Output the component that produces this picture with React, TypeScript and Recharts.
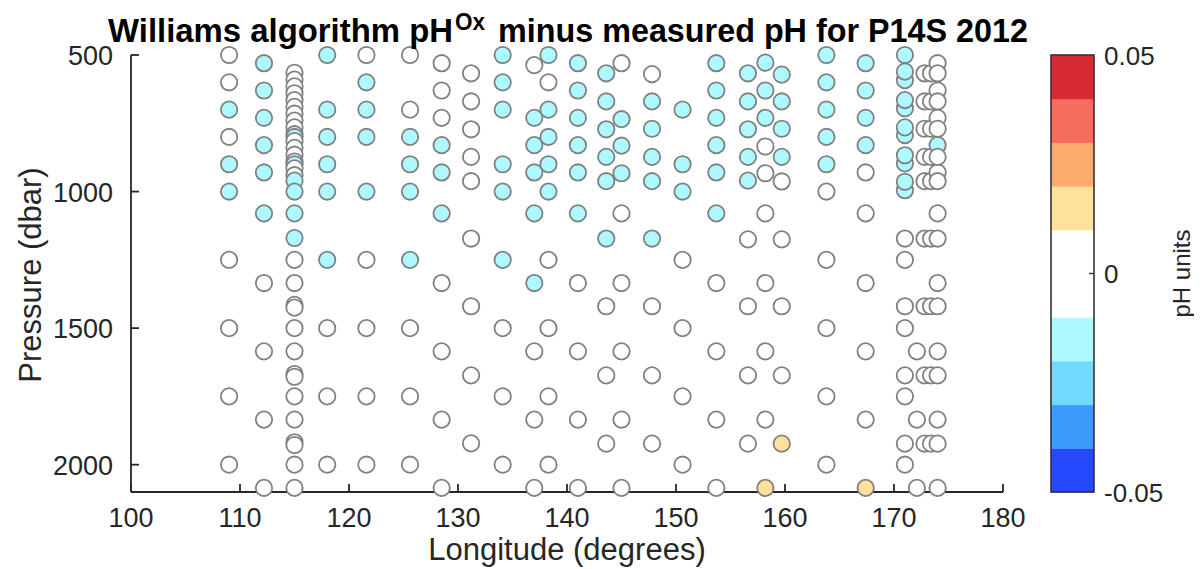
import React from 'react';
import { ScatterChart, Scatter, XAxis, YAxis } from 'recharts';

// ---- data ----
// cyan band ~ -0.015, white ~ 0, yellow ~ +0.015 (pH units)
const stationLon = [
  109.0, 112.2, 115.0, 118.0, 121.6, 125.6, 128.5, 131.2, 134.1, 137.0,
  138.3, 141.0, 143.6, 145.0, 147.8, 150.6, 153.7, 156.6, 158.2, 159.7,
  163.8, 167.4, 171.0, 171.0, 172.1, 172.8, 173.4, 174.0, 174.0,
];

const stationPressure = [
  [500, 600, 700, 800, 900, 1000, 1250, 1500, 1750, 2000],
  [530, 630, 730, 830, 930, 1080, 1335, 1585, 1835, 2085],
  [565, 590, 615, 640, 665, 690, 715, 740, 765, 790, 800, 815, 840, 865, 890, 900, 915, 940, 960, 1000, 1080, 1170, 1250, 1335, 1415, 1425, 1500, 1585, 1668, 1678, 1750, 1835, 1918, 1928, 2000, 2085],
  [500, 700, 800, 900, 1000, 1250, 1500, 1750, 2000],
  [500, 600, 700, 800, 1000, 1250, 1500, 1750, 2000],
  [500, 700, 800, 900, 1000, 1250, 1500, 1750, 2000],
  [530, 630, 730, 830, 930, 1080, 1335, 1585, 1835, 2085],
  [567, 670, 772, 873, 962, 1172, 1420, 1673, 1922],
  [500, 600, 700, 900, 1000, 1250, 1500, 1750, 2000],
  [537, 730, 830, 930, 1080, 1335, 1585, 1835, 2085],
  [500, 600, 700, 800, 900, 1000, 1250, 1500, 1750, 2000],
  [530, 630, 730, 830, 930, 1080, 1335, 1585, 1835, 2085],
  [567, 670, 772, 873, 962, 1172, 1420, 1673, 1923],
  [530, 735, 832, 933, 1080, 1335, 1585, 1835, 2085],
  [570, 670, 770, 873, 962, 1172, 1420, 1673, 1923],
  [700, 900, 1000, 1250, 1500, 1750, 2000],
  [530, 630, 730, 830, 930, 1080, 1335, 1585, 1835, 2085],
  [567, 670, 772, 873, 960, 1175, 1420, 1673, 1923],
  [528, 630, 730, 835, 933, 1080, 1335, 1585, 1835, 2085],
  [572, 670, 770, 873, 963, 1175, 1420, 1673, 1923],
  [500, 600, 700, 800, 900, 1000, 1250, 1500, 1750, 2000],
  [530, 630, 730, 830, 930, 1080, 1335, 1585, 1835, 2085],
  [500, 592, 695, 793, 897, 995, 1250, 1500, 1750, 2000],
  [561, 665, 765, 867, 964, 1172, 1420, 1673, 1923],
  [1585, 1835, 2085],
  [567, 670, 770, 873, 962, 1172, 1420, 1673, 1923],
  [567, 670, 770, 873, 962, 1172, 1420, 1673, 1923],
  [530, 630, 730, 830, 930, 1080, 1335, 1585, 1835, 2085],
  [567, 670, 770, 873, 962, 1172, 1420, 1673, 1923],
];

const stationDelta = [
  [0, 0, -0.015, 0, -0.015, -0.015, 0, 0, 0, 0],
  [-0.015, -0.015, -0.015, -0.015, -0.015, -0.015, 0, 0, 0, 0],
  [0, 0, 0, 0, 0, 0, 0, 0, 0, 0, -0.015, 0, 0, 0, 0, -0.015, 0, 0, -0.015, -0.015, -0.015, -0.015, 0, 0, 0, 0, 0, 0, 0, 0, 0, 0, 0, 0, 0, 0],
  [-0.015, -0.015, -0.015, -0.015, -0.015, -0.015, 0, 0, 0],
  [0, -0.015, -0.015, -0.015, -0.015, 0, 0, 0, 0],
  [0, 0, -0.015, -0.015, -0.015, -0.015, 0, 0, 0],
  [0, 0, 0, -0.015, -0.015, -0.015, 0, 0, 0, 0],
  [0, 0, 0, 0, 0, 0, 0, 0, 0],
  [-0.015, -0.015, -0.015, -0.015, -0.015, -0.015, 0, 0, 0],
  [0, -0.015, -0.015, -0.015, -0.015, -0.015, 0, 0, 0],
  [-0.015, 0, -0.015, -0.015, -0.015, -0.015, 0, 0, 0, 0],
  [-0.015, -0.015, -0.015, -0.015, -0.015, -0.015, 0, 0, 0, 0],
  [-0.015, -0.015, -0.015, -0.015, -0.015, -0.015, 0, 0, 0],
  [0, -0.015, -0.015, -0.015, 0, 0, 0, 0, 0],
  [0, -0.015, -0.015, -0.015, -0.015, -0.015, 0, 0, 0],
  [-0.015, -0.015, -0.015, 0, 0, 0, 0],
  [-0.015, -0.015, -0.015, -0.015, -0.015, -0.015, 0, 0, 0, 0],
  [-0.015, -0.015, -0.015, -0.015, -0.015, 0, 0, 0, 0],
  [-0.015, -0.015, -0.015, 0, 0, 0, 0, 0, 0, 0.015],
  [-0.015, -0.015, -0.015, -0.015, 0, 0, 0, 0, 0.015],
  [-0.015, -0.015, -0.015, -0.015, -0.015, 0, 0, 0, 0, 0],
  [-0.015, -0.015, -0.015, -0.015, 0, 0, 0, 0, 0, 0.015],
  [-0.015, -0.015, -0.015, -0.015, -0.015, -0.015, 0, 0, 0, 0],
  [-0.015, -0.015, -0.015, -0.015, -0.015, 0, 0, 0, 0],
  [0, 0, 0],
  [0, 0, 0, 0, 0, 0, 0, 0, 0],
  [0, 0, 0, 0, 0, 0, 0, 0, 0],
  [0, 0, 0, -0.015, 0, 0, 0, 0, 0, 0],
  [0, 0, 0, 0, 0, 0, 0, 0, 0],
];

const xTicks = [100, 110, 120, 130, 140, 150, 160, 170, 180];
const yTicks = [500, 1000, 1500, 2000];
const colorBandColors = ['#2649fd', '#3e9bfe', '#74d9fe', '#adf9ff', '#ffffff', '#ffffff', '#fee19b', '#fdab6e', '#f46d5e', '#d62a35'];
const colorMin = -0.05;
const colorMax = 0.05;
const colorTickLabels = ['0.05', '0', '-0.05'];

// ---- layout ----
const W = 1186;
const H = 561;
const PLOT_LEFT = 123;
const PLOT_TOP = 47;
const PLOT_RIGHT = 995;
const PLOT_BOTTOM = 484;
const FONT = '"Liberation Sans", Arial, Helvetica, sans-serif';
const INK = '#262626';

const points = stationLon.flatMap((lon, i) =>
  stationPressure[i].map((p, j) => ({ lon, p, d: stationDelta[i][j] }))
);

function colorFor(v: number) {
  const n = colorBandColors.length;
  let idx = Math.floor(((v - colorMin) / (colorMax - colorMin)) * n + 1e-9);
  idx = Math.max(0, Math.min(n - 1, idx));
  return colorBandColors[idx];
}

const Dot = (props: any) => {
  const { cx, cy, payload } = props;
  if (cx == null || cy == null) return null;
  return <circle cx={cx} cy={cy} r={8.2} fill={colorFor(payload.d)} stroke="#808080" strokeWidth={1.8} />;
};

const XTick = (props: any) => {
  const { x, y, payload } = props;
  return (
    <g>
      <line x1={x} x2={x} y1={y} y2={y - 8} stroke={INK} strokeWidth={1.8} />
      <text x={x} y={y + 35} textAnchor="middle" fontSize={27} fontFamily={FONT} fill={INK}>
        {payload.value}
      </text>
    </g>
  );
};

const YTick = (props: any) => {
  const { x, y, payload } = props;
  return (
    <g>
      <line x1={x} x2={x + 8} y1={y} y2={y} stroke={INK} strokeWidth={1.8} />
      <text x={x - 18} y={y + 10} textAnchor="end" fontSize={27} fontFamily={FONT} fill={INK}>
        {payload.value}
      </text>
    </g>
  );
};

const ColorBar = () => {
  const x0 = 1043;
  const x1 = 1086;
  const n = colorBandColors.length;
  const bh = (PLOT_BOTTOM - PLOT_TOP) / n;
  const labelYs = [PLOT_TOP, (PLOT_TOP + PLOT_BOTTOM) / 2, PLOT_BOTTOM];
  return (
    <g>
      {colorBandColors.map((c, i) => (
        <rect key={i} x={x0} y={PLOT_BOTTOM - (i + 1) * bh} width={x1 - x0} height={bh + 0.5} fill={c} />
      ))}
      <rect x={x0} y={PLOT_TOP} width={x1 - x0} height={PLOT_BOTTOM - PLOT_TOP} fill="none" stroke="#333" strokeWidth={1.6} />
      <line x1={x1} x2={x1 - 5} y1={labelYs[1]} y2={labelYs[1]} stroke="#333" strokeWidth={1.4} />
      {colorTickLabels.map((t, i) => (
        <text key={t} x={1096} y={labelYs[i] + 9.5} fontSize={26} fontFamily={FONT} fill={INK}>
          {t}
        </text>
      ))}
      <text
        transform={`translate(1182, ${labelYs[1]}) rotate(-90)`}
        textAnchor="middle"
        fontSize={24}
        fontFamily={FONT}
        fill={INK}
      >
        pH units
      </text>
    </g>
  );
};

export default function App() {
  return (
    <div style={{ position: 'relative', width: W, height: H, background: '#fff' }}>
      <ScatterChart
        width={W}
        height={H}
        margin={{ top: PLOT_TOP, right: W - PLOT_RIGHT, bottom: 0, left: 0 }}
      >
        <XAxis
          type="number"
          dataKey="lon"
          domain={[100, 180]}
          ticks={xTicks}
          interval={0}
          height={H - PLOT_BOTTOM}
          axisLine={{ stroke: INK, strokeWidth: 1.8 }}
          tickLine={false}
          tickSize={0}
          tickMargin={0}
          tick={<XTick />}
        />
        <YAxis
          type="number"
          dataKey="p"
          domain={[500, 2100]}
          reversed
          ticks={yTicks}
          interval={0}
          width={PLOT_LEFT}
          axisLine={{ stroke: INK, strokeWidth: 1.8 }}
          tickLine={false}
          tickSize={0}
          tickMargin={0}
          tick={<YTick />}
        />
        <Scatter data={points} shape={<Dot />} isAnimationActive={false} />
      </ScatterChart>
      <svg width={W} height={H} style={{ position: 'absolute', left: 0, top: 0, pointerEvents: 'none', overflow: 'visible' }}>
        <text x={100} y={34} fontSize={33} fontWeight="bold" fontFamily={FONT} fill="#000" textLength={345} lengthAdjust="spacingAndGlyphs">
          Williams algorithm pH
        </text>
        <text x={447} y={22} fontSize={24} fontWeight="bold" fontFamily={FONT} fill="#000" textLength={30} lengthAdjust="spacingAndGlyphs">
          Ox
        </text>
        <text x={490} y={34} fontSize={33} fontWeight="bold" fontFamily={FONT} fill="#000" textLength={530} lengthAdjust="spacingAndGlyphs">
          minus measured pH for P14S 2012
        </text>
        <text
          transform={`translate(33, 267) rotate(-90)`}
          textAnchor="middle"
          fontSize={31}
          fontFamily={FONT}
          fill={INK}
        >
          Pressure (dbar)
        </text>
        <text x={559} y={552} textAnchor="middle" fontSize={31} fontFamily={FONT} fill={INK}>
          Longitude (degrees)
        </text>
        <ColorBar />
      </svg>
    </div>
  );
}
